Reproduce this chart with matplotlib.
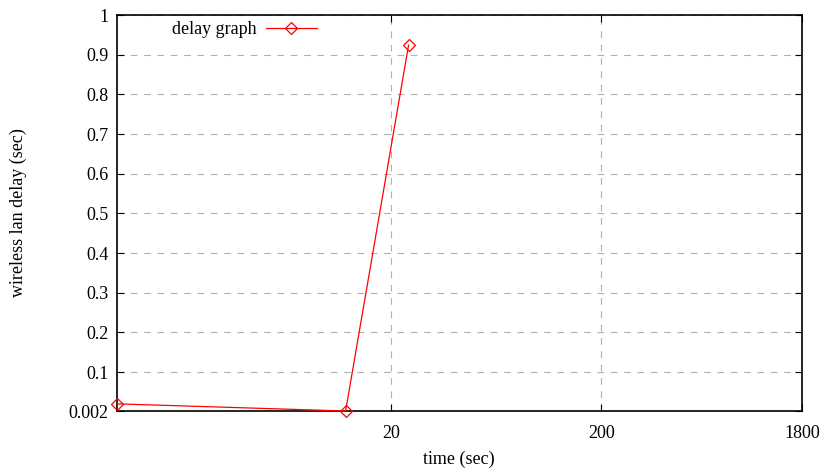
import matplotlib
matplotlib.use('Agg')
import matplotlib.pyplot as plt
from matplotlib.ticker import NullLocator

plt.rcParams['font.family'] = ['Liberation Serif', 'DejaVu Serif']

time_sec = [1.0, 12.2, 24.3]
delay_sec = [0.02, 0.002, 0.924]

xticks = [20, 200, 1800]
xtick_labels = ['20', '200', '1800']
yticks = [0.002, 0.1, 0.2, 0.3, 0.4, 0.5, 0.6, 0.7, 0.8, 0.9, 1]
ytick_labels = ['0.002', '0.1', '0.2', '0.3', '0.4', '0.5', '0.6', '0.7', '0.8', '0.9', '1']

W, H = 823, 468
fig = plt.figure(figsize=(W / 100, H / 100), dpi=100)
ax = fig.add_axes([117 / W, 1 - 411 / H, (802 - 117) / W, (411 - 15) / H])

ax.plot(time_sec, delay_sec, color='red', lw=0.9, marker='D', markersize=6,
        markerfacecolor='none', markeredgecolor='red', markeredgewidth=0.9,
        label='delay graph', clip_on=False, zorder=3)

ax.set_xscale('log')
ax.set_xlim(1.0, 1800)
ax.set_ylim(0.002, 1)
ax.set_xticks(xticks)
ax.set_xticklabels(xtick_labels)
ax.xaxis.set_minor_locator(NullLocator())
ax.set_yticks(yticks)
ax.set_yticklabels(ytick_labels)

ax.tick_params(direction='in', length=5, width=0.8, top=True, right=True,
               labelsize=13)
ax.tick_params(axis='y', pad=6)
ax.tick_params(axis='x', pad=10)
ax.grid(True, color='#b0b0b0', linestyle=(0, (6, 6)), lw=0.8)
for s in ax.spines.values():
    s.set_linewidth(1.2)

fig.text(459 / W, 1 - 459 / H, 'time (sec)', fontsize=13, ha='center', va='center')
fig.text(18 / W, 1 - 213 / H, 'wireless lan delay (sec)', fontsize=13,
         ha='center', va='center', rotation=90)

ax.legend(loc='upper left', bbox_to_anchor=(0.057, 1.025), frameon=False,
          markerfirst=False, fontsize=13, handlelength=2.8, handletextpad=0.5)

fig.savefig('out.png', dpi=100)
